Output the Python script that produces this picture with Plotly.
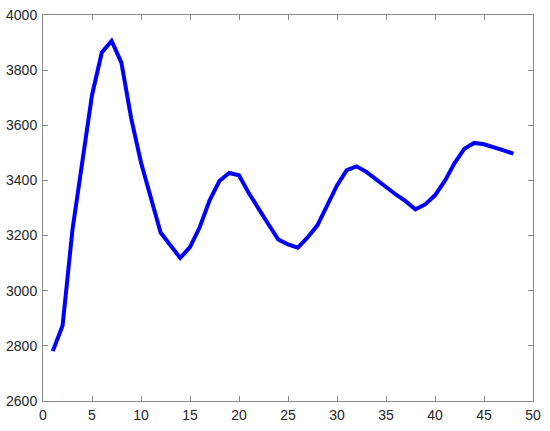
import plotly.graph_objects as go

x_vals = list(range(1, 49))
y_vals = [2781, 2874, 3219, 3461, 3709, 3864, 3906, 3827, 3625, 3465,
          3334, 3211, 3165, 3119, 3158, 3231, 3328, 3398, 3427, 3419,
          3354, 3294, 3241, 3186, 3168, 3156, 3193, 3237, 3310, 3382,
          3437, 3451, 3431, 3403, 3374, 3349, 3325, 3295, 3313, 3346,
          3398, 3463, 3515, 3536, 3531, 3521, 3509, 3497]
x_ticks = [0, 5, 10, 15, 20, 25, 30, 35, 40, 45, 50]
y_ticks = [2600, 2800, 3000, 3200, 3400, 3600, 3800, 4000]

fig = go.Figure(go.Scatter(x=x_vals, y=y_vals, mode="lines",
                           line=dict(color="#0000FF", width=4)))

axis_common = dict(showgrid=False, zeroline=False, showline=True, linecolor="#8c8c8c",
                   linewidth=1, mirror="ticks", ticks="inside", ticklen=5,
                   tickcolor="#8c8c8c", automargin=False,
                   tickfont=dict(family="Liberation Sans, Arial", size=14, color="#262626"))
fig.update_xaxes(range=[0, 50], tickvals=x_ticks, ticklabelstandoff=1, **axis_common)
fig.update_yaxes(range=[2600, 4000], tickvals=y_ticks, ticklabelstandoff=2, **axis_common)
fig.update_layout(width=550, height=431, margin=dict(l=43, r=17, t=15, b=30),
                  plot_bgcolor="white", paper_bgcolor="white", showlegend=False)
fig.write_html("out.html", post_script="document.body.style.margin='0';",
               config={"displayModeBar": False})
